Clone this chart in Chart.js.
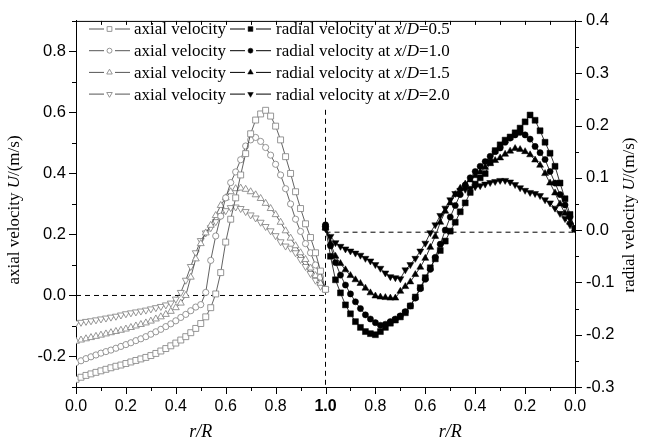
<!DOCTYPE html>
<html>
<head>
<meta charset="utf-8">
<script src="https://cdn.jsdelivr.net/npm/chart.js@4.4.0/dist/chart.umd.min.js"></script>
<style>
  body { margin: 0; background: #fff; }
  #wrap { width: 645px; height: 444px; position: relative; }
</style>
</head>
<body>
<div id="wrap"><canvas id="velChart"></canvas></div>
<script>
// r/R positions of the measuring points
var rR = [0.00,0.02,0.04,0.06,0.08,0.10,0.12,0.14,0.16,0.18,0.20,0.22,0.24,0.26,0.28,0.30,0.32,0.34,0.36,0.38,0.40,
          0.42,0.44,0.46,0.48,0.50,0.52,0.54,0.56,0.58,0.60,0.62,0.64,0.66,0.68,0.70,0.72,0.74,0.76,0.78,0.80,
          0.82,0.84,0.86,0.88,0.90,0.92,0.94,0.96,0.98,1.00];

// axial velocity (left axis), x/D = 0.5, 1.0, 1.5, 2.0
var axial05 = [-0.275,-0.268,-0.262,-0.257,-0.252,-0.247,-0.242,-0.237,-0.232,-0.228,-0.223,-0.218,-0.213,-0.208,-0.203,-0.197,-0.190,-0.182,-0.174,-0.165,-0.156,
               -0.146,-0.135,-0.122,-0.108,-0.092,-0.070,-0.040,0.005,0.075,0.175,0.250,0.320,0.395,0.465,0.530,0.575,0.595,0.607,0.588,0.555,
               0.510,0.455,0.400,0.340,0.285,0.235,0.190,0.140,0.080,0.020];
var axial10 = [-0.220,-0.214,-0.207,-0.201,-0.195,-0.189,-0.184,-0.179,-0.173,-0.167,-0.161,-0.155,-0.148,-0.142,-0.135,-0.127,-0.119,-0.111,-0.102,-0.093,-0.083,
               -0.072,-0.062,-0.050,-0.038,-0.030,0.010,0.115,0.195,0.260,0.320,0.370,0.405,0.445,0.490,0.510,0.518,0.505,0.485,0.460,0.430,
               0.395,0.350,0.300,0.250,0.210,0.170,0.140,0.100,0.060,0.020];
var axial15 = [-0.150,-0.146,-0.142,-0.138,-0.134,-0.130,-0.126,-0.122,-0.118,-0.114,-0.110,-0.105,-0.100,-0.095,-0.090,-0.084,-0.077,-0.070,-0.062,-0.052,-0.040,
               -0.025,0.000,0.060,0.120,0.170,0.205,0.230,0.262,0.295,0.320,0.340,0.350,0.352,0.348,0.340,0.330,0.318,0.302,0.285,0.265,
               0.240,0.212,0.188,0.163,0.140,0.118,0.090,0.065,0.040,0.020];
var axial20 = [-0.090,-0.088,-0.085,-0.083,-0.080,-0.077,-0.074,-0.071,-0.068,-0.064,-0.060,-0.057,-0.054,-0.051,-0.048,-0.044,-0.040,-0.036,-0.031,-0.025,-0.012,
               0.010,0.050,0.095,0.140,0.180,0.205,0.222,0.242,0.262,0.278,0.288,0.290,0.285,0.275,0.264,0.254,0.240,0.226,0.212,0.196,
               0.176,0.162,0.155,0.140,0.118,0.095,0.072,0.050,0.030,0.020];

// radial velocity (right axis), same r/R points
var radial05 = [0.002,0.030,0.060,0.090,0.122,0.147,0.168,0.190,0.210,0.220,0.207,0.195,0.186,0.178,0.172,0.163,0.152,0.130,0.108,0.100,0.088,
                0.072,0.052,0.035,0.015,-0.002,-0.021,-0.039,-0.055,-0.072,-0.091,-0.110,-0.128,-0.145,-0.158,-0.166,-0.172,-0.178,-0.186,-0.194,-0.200,
                -0.198,-0.194,-0.186,-0.175,-0.160,-0.143,-0.120,-0.095,-0.050,0.005];
var radial10 = [0.003,0.025,0.048,0.068,0.090,0.112,0.135,0.148,0.160,0.174,0.182,0.187,0.182,0.176,0.168,0.157,0.150,0.141,0.131,0.122,0.112,
                0.100,0.086,0.068,0.047,0.025,0.000,-0.027,-0.052,-0.075,-0.094,-0.112,-0.130,-0.145,-0.156,-0.164,-0.170,-0.175,-0.180,-0.182,-0.177,
                -0.170,-0.162,-0.150,-0.137,-0.122,-0.105,-0.086,-0.062,-0.030,0.010];
var radial15 = [0.002,0.015,0.032,0.050,0.071,0.090,0.108,0.124,0.134,0.144,0.150,0.154,0.156,0.151,0.145,0.138,0.133,0.127,0.120,0.111,0.104,
                0.096,0.088,0.080,0.068,0.052,0.036,0.015,-0.012,-0.033,-0.054,-0.071,-0.085,-0.099,-0.108,-0.117,-0.130,-0.130,-0.129,-0.128,-0.126,
                -0.120,-0.111,-0.102,-0.095,-0.087,-0.076,-0.064,-0.050,-0.025,0.005];
var radial20 = [0.002,0.010,0.022,0.032,0.042,0.052,0.058,0.066,0.070,0.072,0.076,0.081,0.087,0.092,0.095,0.095,0.093,0.091,0.088,0.085,0.083,
                0.080,0.078,0.076,0.070,0.058,0.042,0.028,0.010,-0.005,-0.025,-0.040,-0.054,-0.066,-0.076,-0.093,-0.091,-0.089,-0.082,-0.073,-0.066,
                -0.059,-0.054,-0.048,-0.044,-0.040,-0.036,-0.031,-0.024,-0.012,0.003];

var stations = ['0.5', '1.0', '1.5', '2.0'];

var SERIF = '"Liberation Serif", "Times New Roman", serif';
var SANS = '"Liberation Sans", Arial, sans-serif';

// left half: r/R as is, right half: r/R mirrored (1.0 in the middle)
function toPts(vals, mirrored) {
  return vals.map(function(v, i) {
    return { x: mirrored ? 2 - rR[i] : rR[i], y: v };
  });
}

var markers = [
  { style: 'rect', rot: 0, r: 4.2 },
  { style: 'circle', rot: 0, r: 3.1 },
  { style: 'triangle', rot: 0, r: 4.0 },
  { style: 'triangle', rot: 180, r: 4.0 }
];
var axialSets = [axial05, axial10, axial15, axial20];
var radialSets = [radial05, radial10, radial15, radial20];

var datasets = [];
for (var i = 0; i < 4; i++) {
  datasets.push({
    label: 'axial velocity',
    data: toPts(axialSets[i], false),
    yAxisID: 'y',
    borderColor: '#3a3a3a',
    borderWidth: 0.8,
    pointStyle: markers[i].style,
    rotation: markers[i].rot,
    pointRadius: markers[i].r,
    pointBorderColor: '#8a8a8a',
    pointBackgroundColor: '#ffffff',
    pointBorderWidth: 0.9
  });
}
for (var j = 0; j < 4; j++) {
  datasets.push({
    label: 'radial velocity at x/D=' + stations[j],
    data: toPts(radialSets[j], true),
    yAxisID: 'y2',
    borderColor: '#000',
    borderWidth: 0.8,
    pointStyle: markers[j].style,
    rotation: markers[j].rot,
    pointRadius: markers[j].r,
    pointBorderColor: '#000',
    pointBackgroundColor: '#000',
    pointBorderWidth: 0.5
  });
}
// dashed reference lines
var refStyle = { borderColor: '#000', borderWidth: 1, borderDash: [5, 4], pointRadius: 0 };
datasets.push(Object.assign({ label: 'ref1', data: [{x: 0, y: 0}, {x: 1, y: 0}], yAxisID: 'y' }, refStyle));
datasets.push(Object.assign({ label: 'ref2', data: [{x: 1, y: -0.004}, {x: 2, y: -0.004}], yAxisID: 'y2' }, refStyle));
datasets.push(Object.assign({ label: 'ref3', data: [{x: 1, y: 0.23}, {x: 1, y: -0.3}], yAxisID: 'y2' }, refStyle));

function line(ctx, x1, y1, x2, y2) {
  ctx.beginPath(); ctx.moveTo(x1, y1); ctx.lineTo(x2, y2); ctx.stroke();
}

// draws text pieces [text, italic] one after another
function pieces(ctx, parts, size, x, y, centered) {
  var w = 0;
  parts.forEach(function(p) {
    ctx.font = (p[1] ? 'italic ' : '') + size + 'px ' + SERIF;
    w += ctx.measureText(p[0]).width;
  });
  var cx = centered ? x - w / 2 : x;
  parts.forEach(function(p) {
    ctx.font = (p[1] ? 'italic ' : '') + size + 'px ' + SERIF;
    ctx.fillText(p[0], cx, y);
    cx += ctx.measureText(p[0]).width;
  });
}

var framePlugin = {
  id: 'frame',
  afterDraw: function(chart) {
    var ctx = chart.ctx, a = chart.chartArea;
    var xs = chart.scales.x, ys = chart.scales.y, y2 = chart.scales.y2;
    ctx.save();
    ctx.strokeStyle = '#000';
    ctx.lineWidth = 1;
    line(ctx, a.left, a.top + 0.5, a.right, a.top + 0.5);

    xs.ticks.forEach(function(t) {
      var px = Math.round(xs.getPixelForValue(t.value)) + 0.5;
      var major = Math.round(t.value * 10) % 2 === 0;
      line(ctx, px, a.bottom, px, a.bottom + (major ? 7 : 4));
      line(ctx, px, a.top, px, a.top + 4);
    });
    ys.ticks.forEach(function(t) {
      var py = Math.round(ys.getPixelForValue(t.value)) + 0.5;
      var major = Math.round(t.value * 10) % 2 === 0;
      line(ctx, a.left, py, a.left - (major ? 7 : 4), py);
    });
    y2.ticks.forEach(function(t) {
      var py = Math.round(y2.getPixelForValue(t.value)) + 0.5;
      var major = Math.round(t.value * 20) % 2 === 0;
      line(ctx, a.right, py, a.right + (major ? 7 : 4), py);
    });

    // axis titles
    ctx.fillStyle = '#000';
    ctx.textBaseline = 'middle';
    var midL = (xs.getPixelForValue(0) + xs.getPixelForValue(1)) / 2;
    var midR = (xs.getPixelForValue(1) + xs.getPixelForValue(2)) / 2;
    pieces(ctx, [['r/R', true]], 18, midL, 432, true);
    pieces(ctx, [['r/R', true]], 18, midR, 432, true);

    ctx.save();
    ctx.translate(15, 210);
    ctx.rotate(-Math.PI / 2);
    pieces(ctx, [['axial velocity ', false], ['U', true], ['/(m/s)', false]], 17, 0, 0, true);
    ctx.restore();
    ctx.save();
    ctx.translate(630, 215);
    ctx.rotate(-Math.PI / 2);
    pieces(ctx, [['radial velocity ', false], ['U', true], ['/(m/s)', false]], 17, 0, 0, true);
    ctx.restore();

    // legend, two columns
    for (var k = 0; k < 4; k++) {
      var rowY = 29 + k * 21.7;
      [chart.data.datasets[k], chart.data.datasets[k + 4]].forEach(function(ds, col) {
        var x0 = col === 0 ? 89 : 230;
        ctx.strokeStyle = col === 0 ? '#555' : '#000';
        ctx.lineWidth = 1;
        line(ctx, x0, rowY, x0 + 15, rowY);
        line(ctx, x0 + 26, rowY, x0 + 41, rowY);
        ctx.fillStyle = ds.pointBackgroundColor;
        ctx.strokeStyle = ds.pointBorderColor;
        ctx.lineWidth = ds.pointBorderWidth;
        Chart.helpers.drawPoint(ctx, {
          pointStyle: ds.pointStyle, rotation: ds.rotation,
          radius: ds.pointRadius * 0.8, borderWidth: ds.pointBorderWidth
        }, x0 + 20.5, rowY);
        ctx.fillStyle = '#000';
        if (col === 0) {
          pieces(ctx, [['axial velocity', false]], 17, x0 + 45, rowY + 1, false);
        } else {
          pieces(ctx, [['radial velocity at ', false], ['x', true], ['/', false], ['D', true], ['=' + stations[k], false]], 17, x0 + 46, rowY + 1, false);
        }
      });
    }
    ctx.restore();
  }
};

new Chart(document.getElementById('velChart'), {
  type: 'line',
  data: { datasets: datasets },
  plugins: [framePlugin],
  options: {
    responsive: true,
    maintainAspectRatio: false,
    animation: false,
    layout: { padding: { top: 15, left: 0, right: 0, bottom: 0 } },
    plugins: { legend: { display: false }, tooltip: { enabled: false } },
    elements: { line: { tension: 0 } },
    scales: {
      x: {
        type: 'linear', min: 0, max: 2,
        grid: { display: false, drawTicks: false },
        border: { display: true, color: '#000', width: 1 },
        afterFit: function(s) { s.height = 57; },
        ticks: {
          stepSize: 0.1, autoSkip: false, maxRotation: 0, padding: 10, color: '#000',
          font: function(c) {
            var bold = c.tick && Math.abs(c.tick.value - 1) < 1e-6;
            return { family: SANS, size: 16, weight: bold ? 'bold' : 'normal' };
          },
          callback: function(v) {
            var k = Math.round(v * 10);
            if (k % 2) return '';
            return ((k <= 10 ? k : 20 - k) / 10).toFixed(1);
          }
        }
      },
      y: {
        type: 'linear', position: 'left', min: -0.3, max: 0.9,
        grid: { display: false, drawTicks: false },
        border: { display: true, color: '#000', width: 1 },
        afterFit: function(s) { s.width = 76; },
        ticks: {
          stepSize: 0.1, autoSkip: false, padding: 10, color: '#000',
          font: { family: SANS, size: 16.5 },
          callback: function(v) {
            var k = Math.round(v * 10);
            if (k % 2) return '';
            return (k / 10).toFixed(1);
          }
        }
      },
      y2: {
        type: 'linear', position: 'right', min: -0.3, max: 0.4,
        grid: { display: false, drawTicks: false },
        border: { display: true, color: '#000', width: 1 },
        afterFit: function(s) { s.width = 70; },
        ticks: {
          stepSize: 0.05, autoSkip: false, padding: 11, color: '#000',
          font: { family: SANS, size: 16.5 },
          callback: function(v) {
            var k = Math.round(v * 20);
            if (k % 2) return '';
            return (k / 20).toFixed(1);
          }
        }
      }
    }
  }
});
</script>
</body>
</html>
